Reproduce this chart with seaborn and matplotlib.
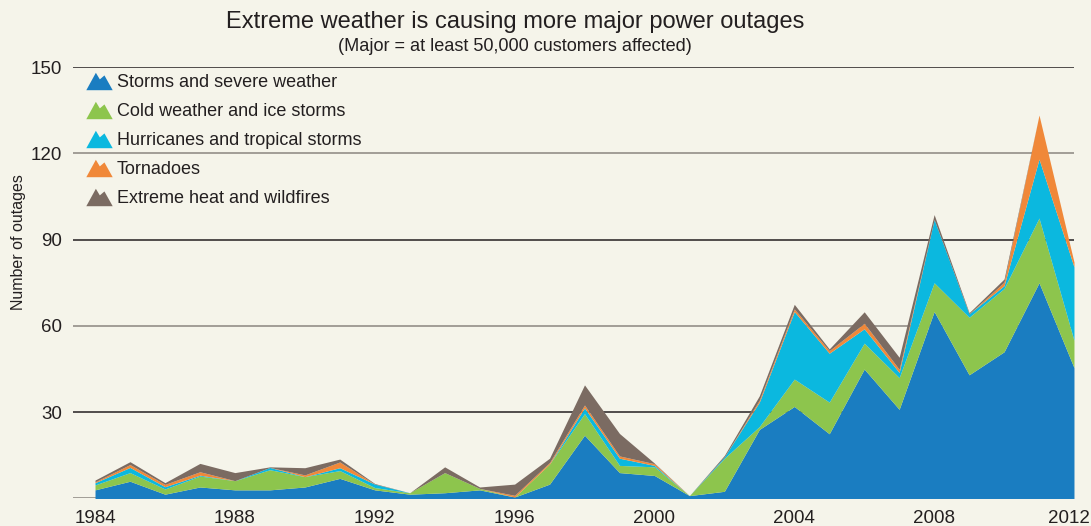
import numpy as np
import pandas as pd
import matplotlib
matplotlib.use("Agg")
import matplotlib.pyplot as plt
from matplotlib.path import Path
from matplotlib.lines import Line2D
import matplotlib.transforms as mtransforms
import seaborn as sns

# Major outages (>= 50,000 customers) by cause, 1984-2012
years = list(range(1984, 2013))
storms = [3, 6, 1.5, 4, 3, 3, 4, 7, 3, 1.5, 2, 3, 0.5, 5, 22, 9, 8, 1, 2.5,
          24, 32, 22.5, 45, 31, 65, 43, 51, 75, 45.5]
cold = [1.7, 3, 1.8, 3.8, 3.2, 7, 3.6, 2.7, 0.8, 0.5, 7, 0.5, 0, 7, 7.5, 2.5,
        3, 0, 11.5, 1, 9.5, 11, 9, 11, 10, 20, 22, 22.5, 9.5]
hurricanes = [0.8, 1.8, 0.8, 0.3, 0, 0.8, 0, 1, 1.2, 0, 0, 0, 0, 0, 2, 2.5,
              0.5, 0, 0.5, 8.5, 23.5, 17, 5, 1.8, 22, 1.2, 1, 20.5, 25.5]
tornadoes = [0.3, 1, 0.8, 1.2, 0, 0, 0.6, 2, 0, 0, 0, 0, 0.6, 0.5, 1, 0.8,
             0.6, 0, 0, 0.7, 0.9, 0.9, 1.9, 1.1, 0, 0, 1.2, 15.3, 1.7]
heat = [0.6, 1, 0.6, 2.9, 2.8, 0.2, 2.5, 1, 0.2, 0, 2, 0.5, 3.9, 1.5, 7, 7.8,
        0.2, 0, 0.5, 1.5, 1.6, 0.6, 4, 4.2, 1.7, 0.4, 1.1, 0, 0]

causes = ["Storms and severe weather", "Cold weather and ice storms",
          "Hurricanes and tropical storms", "Tornadoes",
          "Extreme heat and wildfires"]
colors = ["#1a7dc1", "#8dc54d", "#0bb8df", "#f08839", "#7b6b62"]

y_ticks = [30, 60, 90, 120, 150]
x_ticks = list(range(1984, 2013, 4))

df = pd.DataFrame({"year": years, causes[0]: storms, causes[1]: cold,
                   causes[2]: hurricanes, causes[3]: tornadoes,
                   causes[4]: heat})

BG = "#f5f4ea"
INK = "#231f20"
GREY = "#8b8680"

sns.set_theme(style="white", rc={"figure.facecolor": BG, "axes.facecolor": BG})
plt.rcParams["font.family"] = ["Liberation Sans", "DejaVu Sans"]

fig = plt.figure(figsize=(10.91, 5.26), dpi=100)
ax = fig.add_axes([0.0669, 0.0523, 0.9175, 0.8203])

# alternating dark / grey rules at each labelled value, grey baseline
for i, v in enumerate([0] + y_ticks):
    ax.axhline(v, color=GREY if i % 2 == 0 else INK, lw=1.1, zorder=1)

ax.stackplot(df["year"], *[df[c] for c in causes], colors=colors,
             labels=causes, zorder=2, linewidth=0)

ax.set_xlim(1983.37, 2012)
ax.set_ylim(0, 150)
ax.set_yticks(y_ticks)
ax.set_xticks(x_ticks)
ax.tick_params(axis="y", length=0, pad=8, labelsize=13.5, labelcolor=INK)
ax.tick_params(axis="x", length=0, pad=8.5, labelsize=13.5, labelcolor=INK)
sns.despine(ax=ax, left=True, bottom=True, top=True, right=True)
ax.set_xlabel("")

# nudge the last year label so it stays inside the figure
last = ax.get_xticklabels()[-1]
last.set_transform(last.get_transform() +
                   mtransforms.ScaledTranslation(-5 / 100, 0,
                                                 fig.dpi_scale_trans))

fig.text(0.0165, 0.54, "Number of outages", rotation=90, ha="center",
         va="center", fontsize=11.5, color=INK)
fig.text(0.472, 0.958, "Extreme weather is causing more major power outages",
         ha="center", va="center", fontsize=17, color=INK)
fig.text(0.472, 0.912, "(Major = at least 50,000 customers affected)",
         ha="center", va="center", fontsize=13.1, color=INK)

# twin-peak icon used as legend key
mountain = Path([(-1, -0.66), (-0.275, 0.66), (0.025, 0.16), (0.375, 0.46),
                 (1, -0.66), (-1, -0.66)],
                [Path.MOVETO, Path.LINETO, Path.LINETO, Path.LINETO,
                 Path.LINETO, Path.CLOSEPOLY])
handles = [Line2D([], [], linestyle="none", marker=mountain, markersize=19,
                  markerfacecolor=c, markeredgewidth=0) for c in colors]
ax.legend(handles, causes, loc="upper left", bbox_to_anchor=(0.012, 0.984),
          frameon=False, fontsize=13, handlelength=1.5, handletextpad=0.25,
          labelspacing=0.67, borderpad=0, borderaxespad=0,
          labelcolor=INK)

fig.savefig("out.png", dpi=100, facecolor=BG)
